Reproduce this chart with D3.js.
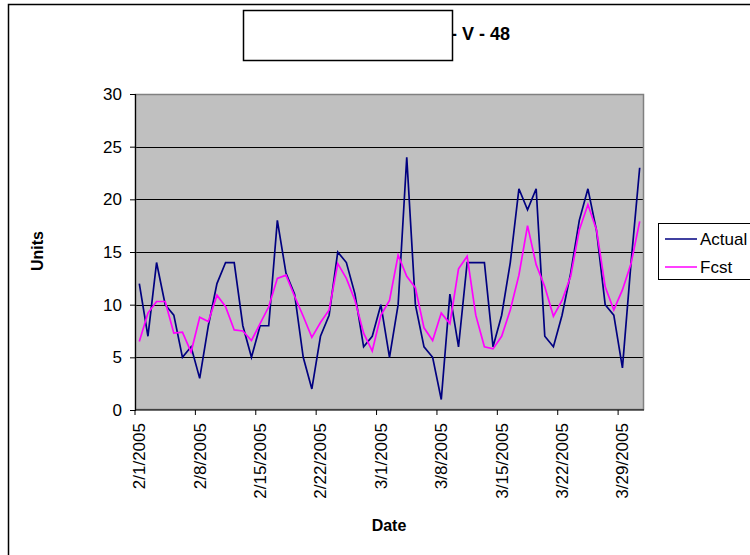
<!DOCTYPE html>
<html>
<head>
<meta charset="utf-8">
<script src="https://cdn.jsdelivr.net/npm/d3@7"></script>
<style>
  body { margin: 0; background: #fff; }
  text { font-family: "Liberation Sans", Arial, sans-serif; }
</style>
</head>
<body>
<div id="chart"></div>
<script>
// daily dates, 2/1/2005 .. 3/31/2005
const startDate = new Date(2005, 1, 1)
const dates = d3.range(59).map(i => d3.timeDay.offset(startDate, i))

const actual = [12, 7, 14, 10, 9, 5, 6, 3, 8, 12, 14, 14, 8, 5, 8, 8, 18, 13, 11, 5,
  2, 7, 9, 15, 14, 11, 6, 7, 10, 5, 10, 24, 10, 6, 5, 1, 11, 6, 14, 14,
  14, 6, 9, 14, 21, 19, 21, 7, 6, 9, 13, 18, 21, 17, 10, 9, 4, 14, 23]

const fcst = [6.5, 9.2, 10.3, 10.3, 7.3, 7.4, 5.5, 8.8, 8.4, 10.9, 9.8, 7.6, 7.5, 6.6, 8.2, 9.8, 12.5, 12.8, 10.8, 8.9,
  6.9, 8.3, 9.5, 13.9, 12.5, 10.4, 7.3, 5.6, 9.0, 10.4, 14.7, 12.7, 11.6, 7.8, 6.6, 9.2, 8.2, 13.4, 14.6, 9.0,
  6.0, 5.8, 7.0, 9.5, 12.8, 17.5, 13.8, 11.7, 8.9, 10.4, 12.7, 17.1, 19.5, 17.1, 11.7, 9.5, 11.4, 13.9, 17.9]

const yTicks = [0, 5, 10, 15, 20, 25, 30]
const seriesNames = ['Actual', 'Fcst']
const seriesColors = ['#000080', '#FF00FF']

const W = 750, H = 555
const plot = { left: 135, top: 94, right: 644, bottom: 410 }

const svg = d3.select('#chart').append('svg')
  .attr('width', W).attr('height', H)

// chart area border (only left/top visible)
svg.append('rect')
  .attr('x', 8.5).attr('y', 4.5)
  .attr('width', 800).attr('height', 600)
  .attr('fill', 'none').attr('stroke', '#000').attr('stroke-width', 1.5)

const x = d3.scaleBand()
  .domain(dates)
  .range([plot.left, plot.right])

const y = d3.scaleLinear()
  .domain([0, 30])
  .range([plot.bottom, plot.top])

svg.append('rect')
  .attr('x', plot.left).attr('y', plot.top)
  .attr('width', plot.right - plot.left).attr('height', plot.bottom - plot.top)
  .attr('fill', '#C0C0C0')

// gridlines
svg.append('g')
  .selectAll('line')
  .data(yTicks.slice(1))
  .join('line')
  .attr('x1', plot.left).attr('x2', plot.right)
  .attr('y1', d => Math.round(y(d)) + 0.5).attr('y2', d => Math.round(y(d)) + 0.5)
  .attr('stroke', '#000').attr('stroke-width', 1)

svg.append('rect')
  .attr('x', plot.left + 0.5).attr('y', plot.top + 0.5)
  .attr('width', plot.right - plot.left - 1).attr('height', plot.bottom - plot.top - 1)
  .attr('fill', 'none').attr('stroke', '#808080').attr('stroke-width', 1.5)

// y axis
const yAxis = svg.append('g')
  .attr('transform', `translate(${plot.left},0)`)
  .call(d3.axisLeft(y).tickValues(yTicks).tickSize(5).tickPadding(8))
yAxis.select('.domain').attr('stroke', '#000').attr('stroke-width', 1.2)
yAxis.selectAll('.tick line').attr('stroke', '#000')
yAxis.selectAll('text').attr('font-size', 17).attr('fill', '#000')
  .style('font-family', '"Liberation Sans", Arial, sans-serif')

// x axis: ticks at start of each week, labels at day centre
const weekStarts = dates.filter((d, i) => i % 7 === 0)
const fmt = d => `${d.getMonth() + 1}/${d.getDate()}/${d.getFullYear()}`
const xAxis = svg.append('g')
  .attr('transform', `translate(0,${plot.bottom})`)
xAxis.append('line')
  .attr('x1', plot.left).attr('x2', plot.right)
  .attr('y1', 0).attr('y2', 0)
  .attr('stroke', '#000').attr('stroke-width', 1.2)
xAxis.selectAll('.tk')
  .data(weekStarts)
  .join('line')
  .attr('class', 'tk')
  .attr('x1', d => x(d)).attr('x2', d => x(d))
  .attr('y1', 0).attr('y2', 5)
  .attr('stroke', '#000')
xAxis.selectAll('.lbl')
  .data(weekStarts)
  .join('text')
  .attr('class', 'lbl')
  .attr('transform', d => `translate(${x(d) + x.bandwidth() / 2},13) rotate(-90)`)
  .attr('text-anchor', 'end')
  .attr('dy', '0.35em')
  .attr('font-size', 17)
  .text(fmt)

// lines
const series = [actual, fcst]
const line = d3.line()
  .x((d, i) => x(dates[i]) + x.bandwidth() / 2)
  .y(d => y(d))

svg.append('g')
  .selectAll('path')
  .data(series)
  .join('path')
  .attr('d', d => line(d))
  .attr('fill', 'none')
  .attr('stroke', (d, i) => seriesColors[i])
  .attr('stroke-width', 1.7)
  .attr('stroke-linejoin', 'miter')

// axis titles
svg.append('text')
  .attr('x', 389).attr('y', 531)
  .attr('text-anchor', 'middle')
  .attr('font-size', 16).attr('font-weight', 'bold')
  .text('Date')

svg.append('text')
  .attr('transform', 'translate(43,251) rotate(-90)')
  .attr('text-anchor', 'middle')
  .attr('font-size', 16).attr('font-weight', 'bold')
  .text('Units')

// title, partly covered by a white box
svg.append('text')
  .attr('x', 451).attr('y', 40)
  .attr('font-size', 18).attr('font-weight', 'bold')
  .text('- V - 48')

svg.append('rect')
  .attr('x', 243.5).attr('y', 10.5)
  .attr('width', 209).attr('height', 50)
  .attr('fill', '#fff').attr('stroke', '#000').attr('stroke-width', 1.5)

// legend
const leg = svg.append('g')
leg.append('rect')
  .attr('x', 658.5).attr('y', 223.5)
  .attr('width', 120).attr('height', 56)
  .attr('fill', '#fff').attr('stroke', '#000').attr('stroke-width', 1)
const legItems = leg.selectAll('.li')
  .data(seriesNames)
  .join('g')
  .attr('class', 'li')
  .attr('transform', (d, i) => `translate(0,${239 + i * 28})`)
legItems.append('line')
  .attr('x1', 665).attr('x2', 697)
  .attr('stroke', (d, i) => seriesColors[i]).attr('stroke-width', 1.5)
legItems.append('text')
  .attr('x', 700).attr('dy', '0.35em')
  .attr('font-size', 17)
  .text(d => d)
</script>
</body>
</html>
